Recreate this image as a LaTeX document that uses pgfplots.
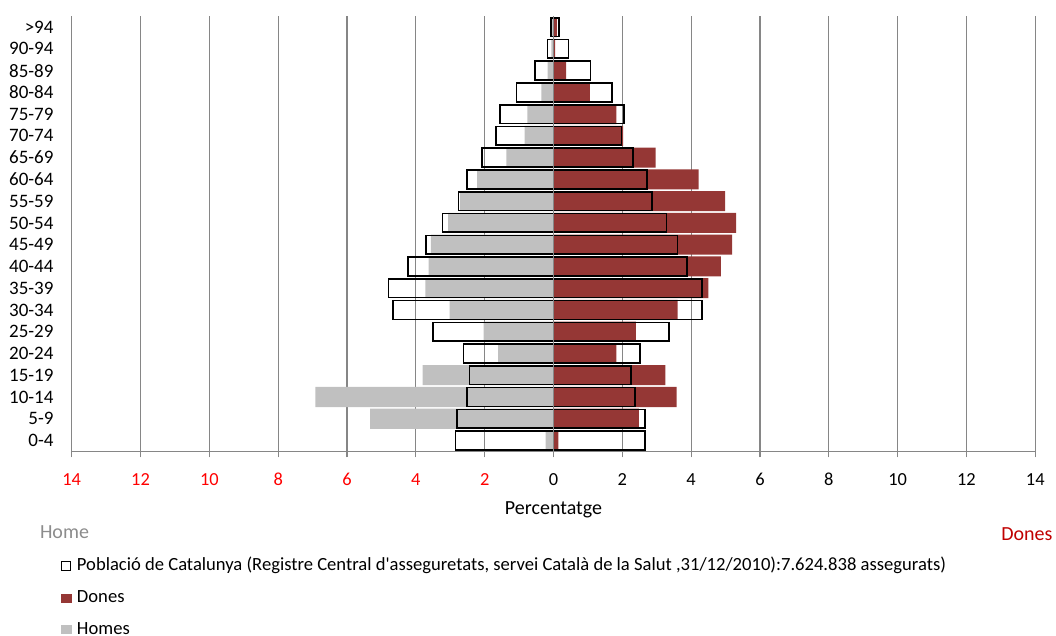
\documentclass[border=0pt]{standalone}
\usepackage{fontspec}
\setmainfont{Carlito}
\usepackage{pgfplots}
\pgfplotsset{compat=1.18}

\definecolor{dones}{RGB}{149,55,53}
\definecolor{homes}{RGB}{192,192,192}
\definecolor{gridc}{RGB}{134,134,134}
\definecolor{donesred}{RGB}{192,0,0}
\definecolor{homegray}{RGB}{140,140,140}

\pgfplotsset{
  sqlegend/.style={legend image code/.code={\fill[##1] (0pt,-2.25pt) rectangle (5.6pt,2.25pt);}},
  boxlegend/.style={legend image code/.code={\draw[black, line width=0.6pt] (0.3pt,-2.25pt) rectangle (4.6pt,2.25pt);}},
}

% rows: 0 = 0-4 ... 19 = >94
\begin{document}
\begin{tikzpicture}
\path[use as bounding box] (-35.85pt,-92.3pt) rectangle ++(528pt,318pt);
\begin{axis}[
  at={(0,0)}, anchor=south west,
  scale only axis, width=481.8pt, height=217.6pt,
  xmin=-14, xmax=14, ymin=-0.5, ymax=19.5,
  xbar, bar shift=0pt,
  axis x line*=bottom, axis y line*=left,
  x axis line style={gridc, line width=0.6pt},
  y axis line style={draw=none},
  xmajorgrids, major grid style={gridc, line width=0.6pt},
  tick align=outside, major tick length=3pt,
  xtick style={gridc, line width=0.6pt},
  ytick style={draw=none},
  xtick={-14,-12,...,14},
  xticklabels={\textcolor{red}{14},\textcolor{red}{12},\textcolor{red}{10},
    \textcolor{red}{8},\textcolor{red}{6},\textcolor{red}{4},\textcolor{red}{2},
    0,2,4,6,8,10,12,14},
  ytick={0,...,19},
  yticklabels={0-4,5-9,10-14,15-19,20-24,25-29,30-34,35-39,40-44,45-49,
    50-54,55-59,60-64,65-69,70-74,75-79,80-84,85-89,90-94,>94},
  xticklabel style={font=\fontsize{9.2}{11}\selectfont, anchor=center, yshift=-10.9pt},
  yticklabel style={font=\fontsize{9.5}{11}\selectfont, anchor=east, inner sep=0pt, xshift=-5.9pt},
  reverse legend,
  legend style={draw=none, fill=none, inner sep=0pt, outer sep=0pt,
    at={(axis description cs:0,0)}, anchor=north west,
    xshift=-5.35pt, yshift=-53.2pt, row sep=7.4pt,
    font=\fontsize{9.3}{11}\selectfont,
    nodes={inner sep=0pt, text height=6.5pt, text depth=2pt},
    /tikz/every odd column/.append style={column sep=2.4pt}},
  legend cell align=left,
]
\addplot[fill=homes, draw=none, bar width=0.92, sqlegend]
  coordinates {(-0.23,0) (-5.33,1) (-6.92,2) (-3.80,3) (-1.61,4) (-2.03,5)
    (-3.02,6) (-3.72,7) (-3.63,8) (-3.56,9) (-3.06,10) (-2.71,11) (-2.22,12)
    (-1.37,13) (-0.84,14) (-0.76,15) (-0.35,16) (-0.17,17) (-0.06,18) (-0.05,19)};
\addlegendentry{Homes}
\addplot[fill=dones, draw=none, bar width=0.92, sqlegend]
  coordinates {(0.14,0) (2.48,1) (3.58,2) (3.25,3) (1.83,4) (2.39,5)
    (3.61,6) (4.50,7) (4.86,8) (5.19,9) (5.31,10) (4.99,11) (4.22,12)
    (2.97,13) (2.02,14) (1.83,15) (1.06,16) (0.37,17) (0.05,18) (0.10,19)};
\addlegendentry{Dones}
\addplot[fill=none, draw=black, line width=0.8pt, bar width=0.86, boxlegend]
  coordinates {(-2.85,0) (-2.80,1) (-2.52,2) (-2.44,3) (-2.61,4) (-3.50,5)
    (-4.67,6) (-4.79,7) (-4.22,8) (-3.70,9) (-3.22,10) (-2.76,11) (-2.52,12)
    (-2.07,13) (-1.67,14) (-1.55,15) (-1.07,16) (-0.54,17) (-0.17,18) (-0.08,19)};
\addlegendentry{Població de Catalunya (Registre Central d\textquotesingle asseguretats, servei Català de la Salut ,31/12/2010):7.624.838 assegurats)}
\addplot[fill=none, draw=black, line width=0.8pt, bar width=0.86, forget plot]
  coordinates {(2.66,0) (2.66,1) (2.37,2) (2.26,3) (2.51,4) (3.35,5)
    (4.32,6) (4.32,7) (3.88,8) (3.60,9) (3.28,10) (2.87,11) (2.71,12)
    (2.31,13) (1.98,14) (2.05,15) (1.70,16) (1.08,17) (0.44,18) (0.16,19)};
\draw[gridc, line width=0.7pt] (axis cs:0,-0.5) -- (axis cs:0,19.5);
\end{axis}
\node[font=\fontsize{10}{12}\selectfont] at (240.9pt,-29.3pt) {Percentatge};
\node[font=\fontsize{10}{12}\selectfont, text=homegray] at (-3.6pt,-40.15pt) {Home};
\node[font=\fontsize{10}{12}\selectfont, text=donesred] at (477.6pt,-41.3pt) {Dones};
\end{tikzpicture}
\end{document}
